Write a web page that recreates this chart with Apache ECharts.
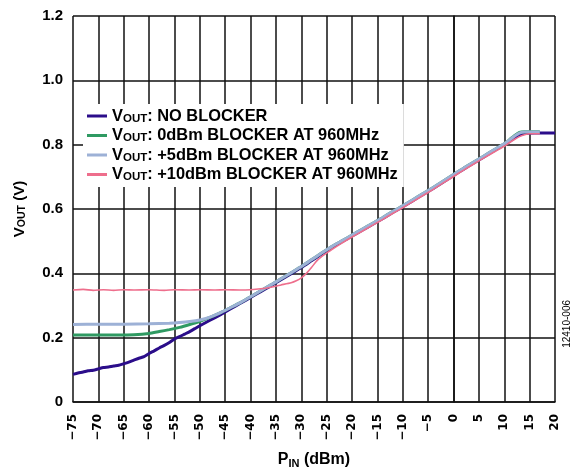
<!DOCTYPE html>
<html>
<head>
<meta charset="utf-8">
<script src="https://cdn.jsdelivr.net/npm/echarts@6/dist/echarts.min.js"></script>
<style>
html,body{margin:0;padding:0;background:#fff;}
#chart{width:577px;height:467px;}
</style>
</head>
<body>
<div id="chart"></div>
<script>
// ---- data ----
const seriesNames = ['NO BLOCKER', '0dBm BLOCKER AT 960MHz', '+5dBm BLOCKER AT 960MHz', '+10dBm BLOCKER AT 960MHz'];

const pNone = [-75,-74,-73,-72,-71,-70,-69,-68,-67,-66,-65,-64,-63,-62,-61,-60,-59,-58,-57,-56,-55,-54,-53,-52,-51,-50,-48,-46,-44,-42,-40,-38,-36,-34,-32,-30,-28,-26,-24,-22,-20,-18,-16,-14,-12,-10,-8,-6,-4,-2,0,2,4,6,8,10,11,12,13,14,16,18,20];
const vNone = [0.086,0.090,0.093,0.097,0.099,0.103,0.107,0.109,0.112,0.114,0.119,0.124,0.130,0.136,0.141,0.151,0.159,0.168,0.176,0.185,0.196,0.203,0.211,0.219,0.228,0.237,0.254,0.271,0.289,0.307,0.325,0.343,0.361,0.380,0.399,0.418,0.439,0.460,0.480,0.498,0.516,0.534,0.552,0.570,0.589,0.607,0.626,0.645,0.664,0.684,0.704,0.724,0.743,0.762,0.781,0.800,0.810,0.821,0.831,0.835,0.836,0.836,0.836];

const p0dBm = [-75,-70,-66,-63,-60,-58,-56,-54,-52,-50,-48,-46,-44,-42,-40,-38,-36,-34,-32,-30,-28,-26,-24,-22,-20,-18,-16,-14,-12,-10,-8,-6,-4,-2,0,2,4,6,8,10,11,12,13,14,17];
const v0dBm = [0.208,0.208,0.208,0.209,0.213,0.219,0.225,0.232,0.241,0.251,0.263,0.277,0.293,0.309,0.327,0.346,0.364,0.383,0.402,0.421,0.442,0.463,0.483,0.501,0.519,0.537,0.555,0.573,0.592,0.610,0.629,0.648,0.667,0.687,0.707,0.727,0.746,0.765,0.784,0.803,0.815,0.828,0.838,0.840,0.840];

const p5dBm = [-75,-70,-65,-60,-56,-54,-52,-50,-48,-46,-44,-42,-40,-38,-36,-34,-32,-30,-28,-26,-24,-22,-20,-18,-16,-14,-12,-10,-8,-6,-4,-2,0,2,4,6,8,10,11,12,13,14,17];
const v5dBm = [0.241,0.242,0.242,0.243,0.245,0.247,0.250,0.255,0.264,0.277,0.293,0.309,0.327,0.346,0.364,0.383,0.402,0.421,0.442,0.463,0.483,0.501,0.519,0.537,0.555,0.573,0.592,0.610,0.629,0.648,0.667,0.687,0.707,0.727,0.746,0.765,0.784,0.803,0.814,0.826,0.836,0.839,0.839];

const p10dBm = [-75,-73,-71,-69,-67,-65,-63,-60,-57,-55,-52,-50,-47,-45,-42,-40,-38,-36,-34,-32,-31,-30,-29,-28,-27,-26,-25,-24,-22,-20,-18,-16,-14,-12,-10,-8,-6,-4,-2,0,2,4,6,8,10,11,12,13,14,15,17];
const v10dBm = [0.348,0.350,0.347,0.349,0.347,0.349,0.348,0.349,0.347,0.349,0.348,0.349,0.348,0.349,0.348,0.349,0.352,0.357,0.364,0.371,0.377,0.386,0.400,0.418,0.438,0.452,0.463,0.474,0.494,0.513,0.531,0.549,0.567,0.586,0.604,0.623,0.642,0.661,0.681,0.701,0.721,0.740,0.759,0.777,0.795,0.806,0.816,0.825,0.831,0.834,0.834];

const xTicks = {min: -75, max: 20, step: 5};
const yTicks = {min: 0, max: 1.2, step: 0.2};

// ---- chart ----
const zip = (xs, ys) => xs.map((x, i) => [x, ys[i]]);
const colors = ['#2B0D8A', '#2F9A62', '#9DB1D6', '#EE6E8C'];
const widths = [3, 3, 3, 1.6];
const dataSets = [zip(pNone, vNone), zip(p0dBm, v0dBm), zip(p5dBm, v5dBm), zip(p10dBm, v10dBm)];

const font = 'Liberation Sans, Arial, sans-serif';
const chart = echarts.init(document.getElementById('chart'), null, {renderer: 'canvas'});

const option = {
  animation: false,
  backgroundColor: '#fff',
  grid: {left: 73, right: 22, top: 16, bottom: 65, containLabel: false, outerBoundsMode: 'none'},
  legend: {
    orient: 'vertical',
    left: 83, top: 104,
    padding: [4, 6, 4, 4],
    backgroundColor: '#fff',
    itemWidth: 20, itemHeight: 3, itemGap: 3,
    icon: 'rect',
    data: seriesNames,
    formatter: n => '{b|V}{s|OUT}{b|: ' + n + '}',
    textStyle: {
      color: '#000',
      rich: {
        b: {fontFamily: font, fontWeight: 'bold', fontSize: 16.4, lineHeight: 17, color: '#000'},
        s: {fontFamily: font, fontWeight: 'bold', fontSize: 11.5, lineHeight: 9, verticalAlign: 'bottom', color: '#000'}
      }
    }
  },
  xAxis: {
    type: 'value',
    min: xTicks.min, max: xTicks.max, interval: xTicks.step,
    name: '{b|P}{s|IN}{b| (dBm)}',
    nameLocation: 'middle', nameGap: 49,
    nameTextStyle: {
      rich: {
        b: {fontFamily: font, fontWeight: 'bold', fontSize: 16, lineHeight: 18, color: '#000'},
        s: {fontFamily: font, fontWeight: 'bold', fontSize: 11, lineHeight: 9, verticalAlign: 'bottom', color: '#000'}
      }
    },
    axisLine: {show: true, onZero: false, lineStyle: {color: '#111', width: 1.6}},
    axisTick: {show: false},
    splitLine: {show: true, lineStyle: {color: '#111', width: 1.5}},
    axisLabel: {
      rotate: 90, margin: 12,
      fontFamily: 'DejaVu Sans', fontWeight: 'bold', fontSize: 12, color: '#000',
      formatter: v => (v < 0 ? '\u2212' + Math.abs(v) : String(v))
    }
  },
  yAxis: {
    type: 'value',
    min: yTicks.min, max: yTicks.max, interval: yTicks.step,
    name: '{b|V}{s|OUT}{b| (V)}',
    nameLocation: 'middle', nameGap: 45,
    nameTextStyle: {
      rich: {
        b: {fontFamily: font, fontWeight: 'bold', fontSize: 15, lineHeight: 17, color: '#000'},
        s: {fontFamily: font, fontWeight: 'bold', fontSize: 10.5, lineHeight: 9, verticalAlign: 'bottom', color: '#000'}
      }
    },
    axisLine: {show: true, lineStyle: {color: '#111', width: 1.6}},
    axisTick: {show: false},
    splitLine: {show: true, lineStyle: {color: '#111', width: 1.5}},
    axisLabel: {
      margin: 10, fontFamily: font, fontWeight: 'bold', fontSize: 15, color: '#000',
      formatter: v => (v === 0 ? '0' : v.toFixed(1))
    }
  },
  graphic: [{
    type: 'text', left: 562, top: 300, rotation: Math.PI / 2,
    style: {text: '12410-006', font: '10px Liberation Sans, Arial, sans-serif', fill: '#000'}
  }],
  series: seriesNames.map((n, i) => ({
    name: n, type: 'line', data: dataSets[i], showSymbol: false, symbol: 'none',
    smooth: 0.2, color: colors[i], z: 2 + i,
    lineStyle: {color: colors[i], width: widths[i]}
  }))
};
chart.setOption(option);
</script>
</body>
</html>
